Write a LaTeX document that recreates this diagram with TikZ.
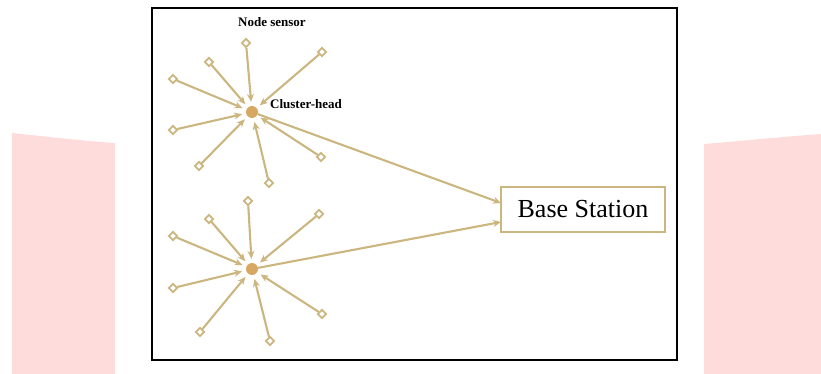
\documentclass[tikz,border=0pt]{standalone}
\usepackage{fontspec}
\setmainfont{Liberation Serif}
\usetikzlibrary{shapes.geometric,arrows.meta}
\definecolor{linktan}{RGB}{203,182,128}
\definecolor{headtan}{RGB}{214,168,98}
\definecolor{pinkbg}{RGB}{255,220,220}
\tikzset{
  sensor/.style={shape=diamond,draw=linktan,fill=white,line width=1.8pt,minimum size=9pt,inner sep=0pt},
  head/.style={shape=circle,fill=headtan,minimum size=12pt,inner sep=0pt},
  link/.style={draw=linktan,line width=2.1pt,-{Stealth[length=8pt,width=7pt]},shorten >=4pt},
  label/.style={font=\fontsize{13}{15}\selectfont\bfseries}
}
\begin{document}
\begin{tikzpicture}[x=1pt,y=-1pt]
\useasboundingbox (0,0) rectangle (821,374);
% pink side bands
\fill[pinkbg] (12,133) .. controls (50,137) and (85,141) .. (115,143) -- (115,374) -- (12,374) -- cycle;
\fill[pinkbg] (704,144) .. controls (740,141) and (780,137) .. (821,134) -- (821,374) -- (704,374) -- cycle;
% frame
\draw[line width=2.6pt] (152,8) rectangle (677,360);
% upper cluster
\node (h1) at (252,112) [head] {};
\node (p1) at (246,43) [sensor] {};
\node (p2) at (322,52) [sensor] {};
\node (p3) at (209,62) [sensor] {};
\node (p4) at (173,79) [sensor] {};
\node (p5) at (173,130) [sensor] {};
\node (p6) at (321,157) [sensor] {};
\node (p7) at (199,166) [sensor] {};
\node (p8) at (269,183) [sensor] {};
\foreach \s in {p1,p2,p3,p4,p5,p6,p7,p8}
  \draw[link] (\s) -- (h1);
% lower cluster
\node (h2) at (252,269) [head] {};
\node (p9) at (248,201) [sensor] {};
\node (p10) at (319,214) [sensor] {};
\node (p11) at (209,219) [sensor] {};
\node (p12) at (173,236) [sensor] {};
\node (p13) at (173,288) [sensor] {};
\node (p14) at (322,314) [sensor] {};
\node (p15) at (200,332) [sensor] {};
\node (p16) at (270,341) [sensor] {};
\foreach \s in {p9,p10,p11,p12,p13,p14,p15,p16}
  \draw[link] (\s) -- (h2);
% labels
\node (lsensor) at (272,22) [label] {Node sensor};
\node (lhead) at (306,104) [label] {Cluster-head};
% base station
\node (bs) at (583,209.5) [draw=linktan,line width=2pt,fill=white,minimum width=164pt,minimum height=45pt,inner sep=0pt,font=\fontsize{26}{30}\selectfont] {Base Station};
\coordinate (bsin1) at (501,203);
\coordinate (bsin2) at (501,222);
\draw[link,shorten >=0pt] (h1) -- (bsin1);
\draw[link,shorten >=0pt] (h2) -- (bsin2);
\end{tikzpicture}
\end{document}
